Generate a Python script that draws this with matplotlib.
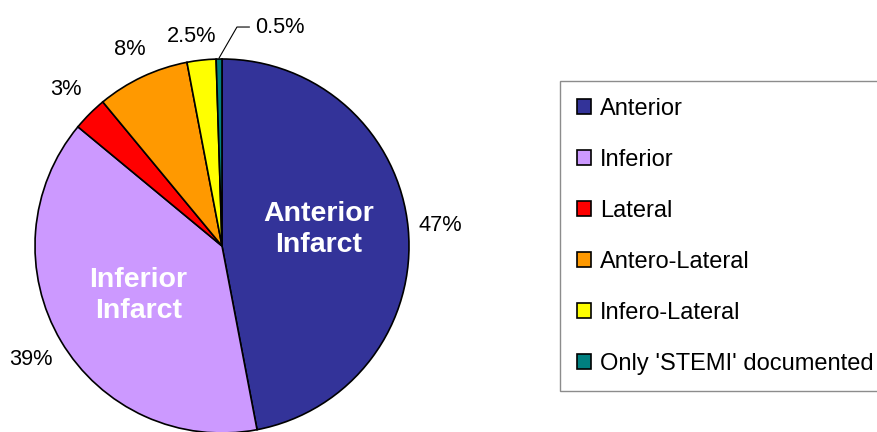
import numpy as np
import matplotlib
matplotlib.use("Agg")
import matplotlib.pyplot as plt
from matplotlib.patches import Rectangle

categories = ["Anterior", "Inferior", "Lateral", "Antero-Lateral", "Infero-Lateral", "Only 'STEMI' documented"]
values = [47, 39, 3, 8, 2.5, 0.5]
pct_labels = ["47%", "39%", "3%", "8%", "2.5%", "0.5%"]
colors = ["#333399", "#CC99FF", "#FF0000", "#FF9900", "#FFFF00", "#008080"]
inner_labels = {0: "Anterior\nInfarct", 1: "Inferior\nInfarct"}

plt.rcParams['font.family'] = ['Liberation Sans', 'DejaVu Sans']

W, H = 877, 432
fig = plt.figure(figsize=(W / 100, H / 100), dpi=100)
ax = fig.add_axes([0, 0, 1, 1])

cx, cy, R = 222, H - 246, 187
wedges, _ = ax.pie(values, colors=colors, startangle=90, counterclock=False,
                   center=(cx, cy), radius=R,
                   wedgeprops=dict(edgecolor="black", linewidth=1.2))
ax.set_xlim(0, W)
ax.set_ylim(0, H)
ax.set_aspect('equal')
ax.axis('off')

label_r = [1.175, 1.19, 1.18, 1.16, 1.13]
for i, w in enumerate(wedges):
    mid = np.deg2rad((w.theta1 + w.theta2) / 2)
    ux, uy = np.cos(mid), np.sin(mid)
    if i < 5:
        ang = mid + (np.deg2rad(2.0) if i == 4 else 0)
        ax.text(cx + label_r[i] * R * np.cos(ang), cy + label_r[i] * R * np.sin(ang), pct_labels[i],
                ha='center', va='center', fontsize=15.7, color='black')
    else:
        x0, y0 = cx + R * ux, cy + R * uy
        ax.annotate(pct_labels[i], xy=(x0, y0 + 1), xytext=(x0 + 36, y0 + 32),
                    ha='left', va='center', fontsize=15.7,
                    arrowprops=dict(arrowstyle='-', color='black', lw=0.8,
                                    connectionstyle="angle,angleA=0,angleB=60,rad=0",
                                    shrinkA=2, shrinkB=0))
    if i in inner_labels:
        r_in = 0.52 * R
        ax.text(cx + r_in * ux, cy + r_in * uy + (7 if i == 0 else 0), inner_labels[i],
                ha='center', va='center', fontsize=20.5, fontweight='bold',
                color='white', linespacing=1.25)

# legend frame (extends past the right edge, as in the reference)
ax.add_patch(Rectangle((560, H - 391), 360, 310, transform=ax.transData,
                       facecolor='white', edgecolor='#8c8c8c', linewidth=1.0,
                       clip_on=False, zorder=0.5))

leg = fig.legend(wedges, categories, loc='upper left',
                 bbox_to_anchor=(560 / W, 1 - 81 / H), borderaxespad=0,
                 fontsize=17, frameon=False,
                 handlelength=0.6, handleheight=0.6, handletextpad=0.38,
                 labelspacing=1.23, borderpad=0.72)
for h in leg.legend_handles:
    h.set_edgecolor('black')
    h.set_linewidth(1.2)

fig.savefig("out.png", dpi=100)
